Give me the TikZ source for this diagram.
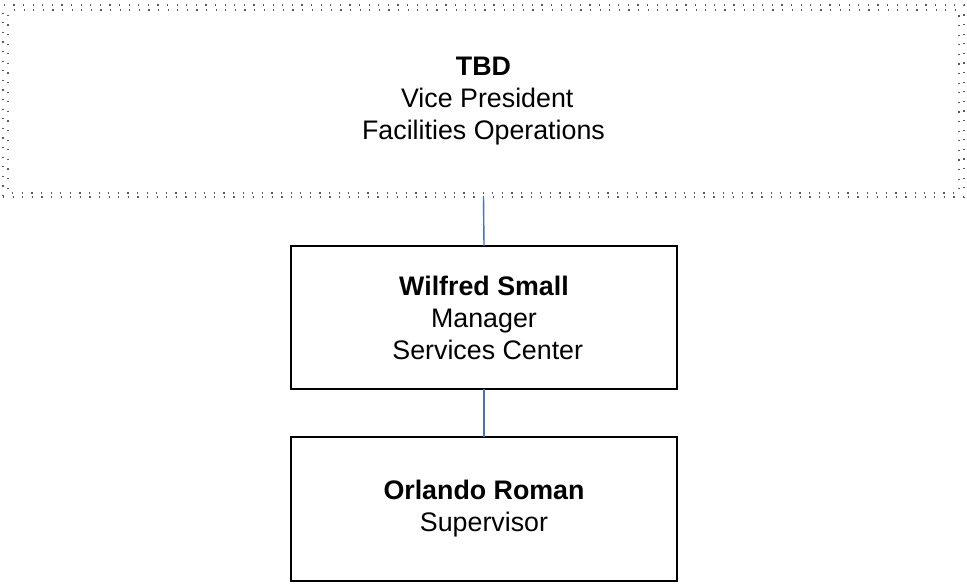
\documentclass[tikz,border=0pt]{standalone}
\usepackage{fontspec}
\setmainfont{Liberation Sans}
\usetikzlibrary{positioning}
\definecolor{LinkBlue}{RGB}{68,114,196}
\definecolor{DotGray}{RGB}{90,90,90}

\begin{document}
\begin{tikzpicture}[x=0.5pt,y=-0.5pt,
  dots/.style={draw=DotGray,line width=0.6pt,dash pattern=on 0.6pt off 4.2pt},
  vacant/.style={dots,rectangle,inner sep=0pt,outer sep=0pt,align=center,
    minimum width=480.5pt,minimum height=96pt,
    font=\fontsize{13.4}{16}\selectfont},
  box/.style={draw=black,line width=1pt,rectangle,inner sep=0pt,outer sep=0pt,
    align=center,minimum width=193pt,minimum height=71.5pt,
    font=\fontsize{13.4}{16}\selectfont},
  link/.style={draw=LinkBlue,line width=0.7pt}
]
\useasboundingbox (0,0) rectangle (967,584);
\node[vacant] (vp) at (483.5,101)
  {\textbf{TBD}\\\hspace*{.28em}Vice President\\Facilities Operations};
\draw[dots,dash phase=2.4pt] ([shift={(5,5)}]vp.north west) rectangle ([shift={(-5,-4)}]vp.south east);
\node[box] (mgr) at (484,317.5)
  {\textbf{Wilfred Small}\\Manager\\\hspace*{.28em}Services Center};
\node[box,minimum height=72pt] (sup) at (484,509)
  {\textbf{Orlando Roman}\\Supervisor};
\draw[link] (vp.south) -- (mgr.north);
\draw[link] (mgr.south) -- (sup.north);
\end{tikzpicture}
\end{document}
